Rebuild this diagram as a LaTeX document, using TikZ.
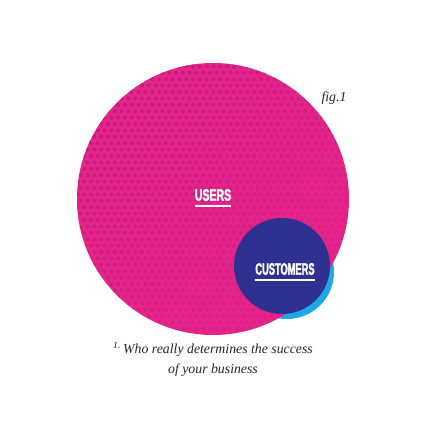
\documentclass[tikz,border=0pt]{standalone}
\usepackage{fontspec}
\newfontfamily\condfont[FakeStretch=0.64, FakeBold=2]{Liberation Sans}
\newfontfamily\notefont{Liberation Serif}
\usetikzlibrary{positioning}

\definecolor{usersmagenta}{HTML}{E5238B}
\definecolor{dotmagenta}{HTML}{B81F78}
\definecolor{custnavy}{HTML}{2E3190}
\definecolor{custcyan}{HTML}{1BA9E7}

\begin{document}
\begin{tikzpicture}[
    x=1pt, y=-1pt,
    tag/.style={text=white, inner sep=0pt, font=\condfont\bfseries\fontsize{16.5}{16.5}\selectfont},
    rule/.style={white, line width=2pt},
    note/.style={inner sep=0pt, font=\notefont\itshape\fontsize{13.8}{20}\selectfont, text=black!85, align=center}
]
\useasboundingbox (0,0) rectangle (427,427);

% customers circle (cyan part only shows outside users)
\fill[custcyan] (287,272) circle[radius=47];

% users circle with halftone dots
\fill[usersmagenta] (213,199) circle[radius=136];
\begin{scope}
  \clip (213,199) circle[radius=136];
  \foreach \j in {0,...,42} {
    \foreach \i in {0,...,40} {
      \pgfmathsetmacro{\dx}{mod(\j,2)*3.4}
      \pgfmathsetmacro{\op}{max(0.25, 0.95-(\i*6.8+\j*6.4)/600)}
      \fill[dotmagenta, opacity=\op] (74+\i*6.8+\dx, 60+\j*6.4) circle[radius=2];
    }
  }
\end{scope}

% customers overlap
\fill[custnavy] (282,266) circle[radius=48];

\node[tag] (users) at (213,195) {USERS};
\draw[rule] ([yshift=-5pt]users.south west) -- ([yshift=-5pt]users.south east);

\node[tag, xscale=0.88, transform shape] (customers) at (285,269) {CUSTOMERS};
\draw[rule] ([yshift=-5pt]customers.south west) -- ([yshift=-5pt]customers.south east);

\node[note] (fig) at (334,98) {fig.1};

\node[note] (question) at (213,359) {\textsuperscript{1.}\,Who really determines the success\\of your business};
\end{tikzpicture}
\end{document}
